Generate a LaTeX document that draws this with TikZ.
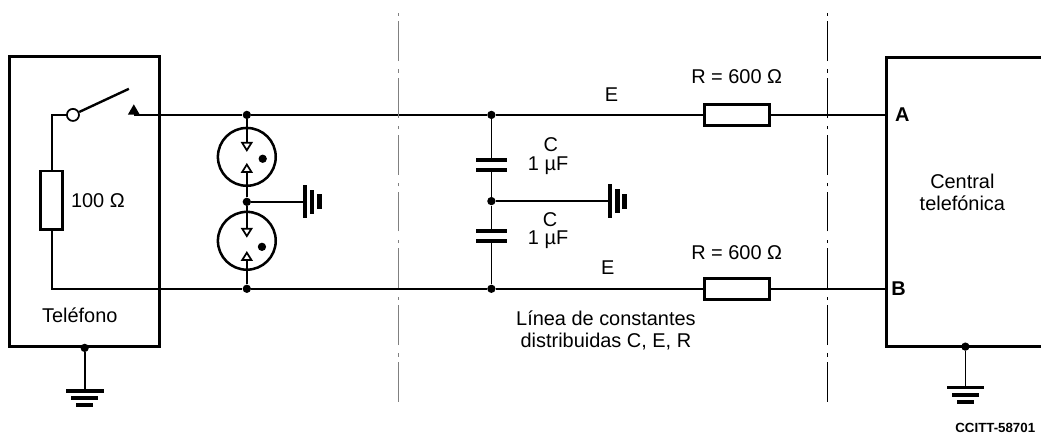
\documentclass[tikz,border=0pt]{standalone}
\usepackage{fontspec}
\setmainfont{Liberation Sans}
\usetikzlibrary{positioning}
\usetikzlibrary{graphs}
\usetikzlibrary{arrows.meta}
\usetikzlibrary{shapes.geometric}
\tikzset{
    wire/.style={line width=1.3pt},
    frame/.style={line width=2.2pt},
    jdot/.style={circle,fill=black,inner sep=0pt,minimum size=0.22cm},
    resbox/.style={draw,line width=2pt,inner sep=0pt},
    gastube/.style={circle,draw,line width=1.9pt,inner sep=0pt,minimum size=1.53cm},
    plate/.style={fill=black,inner sep=0pt,minimum width=0.83cm,minimum height=0.1cm},
    contact/.style={regular polygon,regular polygon sides=3,fill=black,inner sep=0pt,minimum size=0.36cm},
    lbl/.style={inner sep=0pt,font=\fontsize{15}{16.3}\selectfont},
    bar/.style={-{Triangle[open,length=7.5pt,width=9pt,line width=1.3pt]},line width=1.3pt},
    dashdot/.style={dash pattern=on 30pt off 4pt on 2.5pt off 6.25pt},
    gnddown/.pic={
        \fill (-0.5,-0.05) rectangle (0.5,0.05);
        \fill (-0.35,-0.24) rectangle (0.35,-0.14);
        \fill (-0.22,-0.43) rectangle (0.22,-0.33);
    },
    gndright/.pic={
        \fill (0,-0.44) rectangle (0.12,0.44);
        \fill (0.19,-0.32) rectangle (0.31,0.32);
        \fill (0.38,-0.2) rectangle (0.5,0.2);
    },
}
\begin{document}
\begin{tikzpicture}[on grid]
    \useasboundingbox (-6.53,-8.57) rectangle (21.01,3.04);

    \node (jt1) [jdot]                        {};
    \node (tube1) [gastube,below=1.11cm of jt1] {};
    \node (jm1) [jdot,below=2.30cm of jt1]    {};
    \node (tube2) [gastube,below=3.33cm of jt1] {};
    \node (jb1) [jdot,below=4.60cm of jt1]    {};
    \node (dot1) [jdot,below right=0.05cm and 0.42cm of tube1] {};
    \node (dot2) [jdot,below right=0.16cm and 0.40cm of tube2] {};
    \coordinate [below=0.98cm of jt1] (ta1);
    \coordinate [below=1.27cm of jt1] (tb1);
    \coordinate [below=3.25cm of jt1] (ta2);
    \coordinate [below=3.60cm of jt1] (tb2);
    \coordinate [right=1.48cm of jm1] (g1);

    \node (tel) [draw,frame,inner sep=0pt,minimum width=3.97cm,minimum height=7.67cm,below left=2.29cm and 4.29cm of jt1] {};
    \node (swc) [circle,draw,wire,fill=white,inner sep=0pt,minimum size=0.32cm,left=4.60cm of jt1] {};
    \coordinate [left=2.99cm of jt1] (con);
    \node (tip) [contact,left=2.99cm of jt1,yshift=0.1cm] {};
    \coordinate [above right=0.69cm and 1.48cm of swc] (lev);
    \node (res1) [resbox,minimum width=0.58cm,minimum height=1.56cm,below left=2.26cm and 0.56cm of swc] {};
    \node (rl1) [lbl,right=1.22cm of res1]     {100 Ω};
    \node (tl) [lbl,below left=0.69cm and 4.42cm of jb1] {Teléfono};
    \node (jg1) [jdot] at (tel.south)         {};
    \coordinate [below=1.14cm of jg1] (g2);

    \node (jt2) [jdot,right=6.47cm of jt1]    {};
    \node (jm2) [jdot,below=2.28cm of jt2]    {};
    \node (jb2) [jdot,below=4.60cm of jt2]    {};
    \node (c1a) [plate,below=1.19cm of jt2]   {};
    \node (c1b) [plate,below=1.46cm of jt2]   {};
    \node (c2a) [plate,below=3.07cm of jt2]   {};
    \node (c2b) [plate,below=3.33cm of jt2]   {};
    \coordinate [right=3.08cm of jm2] (g3);
    \node (cl1) [lbl,below right=0.79cm and 1.57cm of jt2] {C};
    \node (cv1) [lbl,below right=1.35cm and 1.50cm of jt2] {1 µF};
    \node (cl2) [lbl,below right=2.78cm and 1.55cm of jt2] {C};
    \node (cv2) [lbl,below right=3.31cm and 1.50cm of jt2] {1 µF};
    \node (e1) [lbl,above right=0.53cm and 3.18cm of jt2]  {E};
    \node (e2) [lbl,above right=0.55cm and 3.08cm of jb2]  {E};
    \node (ln) [lbl,align=center,below right=1.11cm and 3.03cm of jb2] {Línea de constantes\\distribuidas C, E, R};

    \node (r1) [resbox,minimum width=1.72cm,minimum height=0.55cm,right=6.49cm of jt2] {};
    \node (r2) [resbox,minimum width=1.72cm,minimum height=0.55cm,below=4.60cm of r1]  {};
    \node (rl2) [lbl,above=1.00cm of r1]      {R = 600 Ω};
    \node (rl3) [lbl,above=0.95cm of r2]      {R = 600 Ω};

    \coordinate [right=3.96cm of r1] (ca);
    \coordinate [below=4.60cm of ca] (cb);
    \coordinate [above=1.51cm of ca] (ctl);
    \coordinate [below=1.53cm of cb] (cbl);
    \coordinate [right=4.3cm of ctl] (ctr);
    \coordinate [right=4.3cm of cbl] (cbr);
    \node (jg3) [jdot,right=2.09cm of cbl,anchor=center] {};
    \coordinate [below=1.08cm of jg3] (g4);
    \node (pa) [lbl,font=\fontsize{15}{16.3}\selectfont\bfseries,right=0.42cm of ca,anchor=center] {A};
    \node (pb) [lbl,font=\fontsize{15}{16.3}\selectfont\bfseries,right=0.32cm of cb,anchor=center] {B};
    \node (ct) [lbl,align=center,below right=2.05cm and 2.01cm of ca,anchor=center] {Central\\telefónica};
    \node (ref) [inner sep=0pt,font=\fontsize{10}{12}\selectfont\bfseries,below right=2.14cm and 0.79cm of jg3] {CCITT-58701};

    \coordinate [below right=2.99cm and 4.02cm of jb1] (d1b);
    \coordinate [above=10.48cm of d1b] (d1t);
    \coordinate [below left=2.99cm and 1.56cm of cb] (d2b);
    \coordinate [above=10.48cm of d2b] (d2t);

    \graph [edges={wire}] {
        (con) -- (jt1) -- (jt2) -- (r1) -- (ca);
        (jb1) -- (jb2) -- (r2) -- (cb);
        (jt2) -- (c1a);
        (c1b) -- (jm2) -- (c2a);
        (c2b) -- (jb2);
        (jm1) -- (g1);
        (jm2) -- (g3);
        (jg1) -- (g2);
        (jg3) -- (g4);
    };
    \draw[wire] (swc.west) -| (res1.north);
    \draw[wire] (res1.south) |- (jb1);
    \draw[line width=1.8pt] (swc.25) -- (lev);
    \draw[frame] (ctr) -- (ctl) -- (cbl) -- (cbr);
    \draw[bar] (jt1) -- (ta1);
    \draw[bar] (jm1) -- (tb1);
    \draw[bar] (jm1) -- (ta2);
    \draw[bar] (jb1) -- (tb2);
    \draw[dashdot,gray,line width=0.9pt] (d1b) -- (d1t);
    \draw[dashdot,line width=1.2pt] (d2b) -- (d2t);
    \pic at (g1) {gndright};
    \pic at (g3) {gndright};
    \pic at (g2) {gnddown};
    \pic at (g4) {gnddown};
\end{tikzpicture}
\end{document}
